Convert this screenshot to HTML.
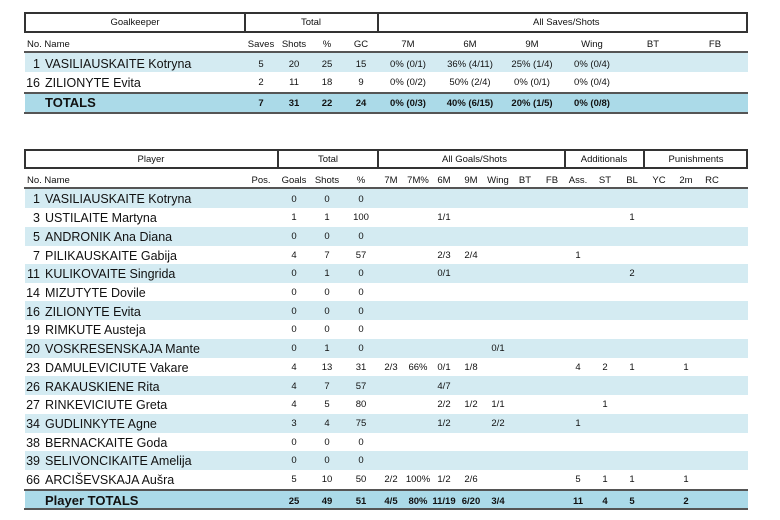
<!DOCTYPE html>
<html><head><meta charset="utf-8"><style>
*{margin:0;padding:0;box-sizing:border-box}
body{width:780px;height:520px;background:#fff;position:relative;font-family:"Liberation Sans",sans-serif;color:#111;overflow:hidden}
.box{position:absolute;border:2px solid #333;border-right-width:2px}
.vl{position:absolute;width:2px;background:#333}
.hl{position:absolute;height:2px;background:#555;left:24px;width:724px}
.bg{position:absolute;left:25px;width:723px}
.b1{background:#d4ebf2}.bt{background:#abdae8}
.t{position:absolute;font-size:9.5px;line-height:12px;white-space:nowrap;text-align:center;width:60px;margin-left:-30px}
.n{position:absolute;font-size:12.5px;line-height:14px;white-space:nowrap}
.no{position:absolute;font-size:12.5px;line-height:14px;width:20px;left:20px;text-align:right}
.b{font-weight:bold}
.n.b{font-size:13px}
</style></head><body>

<!-- TOP TABLE -->
<div class="box" style="left:24px;top:12px;width:724px;height:21px"></div>
<div class="vl" style="left:244px;top:12px;height:21px"></div>
<div class="vl" style="left:377px;top:12px;height:21px"></div>
<div class="t" style="left:135px;top:17px">Goalkeeper</div>
<div class="t" style="left:311px;top:17px">Total</div>
<div class="t" style="left:563px;top:17px">All Saves/Shots</div>

<div class="t" style="left:27px;top:39px;margin-left:0;text-align:left">No. Name</div>
<div class="t" style="left:261px;top:39px">Saves</div>
<div class="t" style="left:294px;top:39px">Shots</div>
<div class="t" style="left:327px;top:39px">%</div>
<div class="t" style="left:361px;top:39px">GC</div>
<div class="t" style="left:408px;top:39px">7M</div>
<div class="t" style="left:470px;top:39px">6M</div>
<div class="t" style="left:532px;top:39px">9M</div>
<div class="t" style="left:592px;top:39px">Wing</div>
<div class="t" style="left:653px;top:39px">BT</div>
<div class="t" style="left:715px;top:39px">FB</div>
<div class="hl" style="top:51px"></div>

<div class="bg b1" style="top:53px;height:19px"></div>
<div class="no" style="top:57px">1</div><div class="n" style="left:45px;top:57px">VASILIAUSKAITE Kotryna</div>
<div class="t" style="left:261px;top:59px">5</div><div class="t" style="left:294px;top:59px">20</div><div class="t" style="left:327px;top:59px">25</div><div class="t" style="left:361px;top:59px">15</div>
<div class="t" style="left:408px;top:59px">0% (0/1)</div><div class="t" style="left:470px;top:59px">36% (4/11)</div><div class="t" style="left:532px;top:59px">25% (1/4)</div><div class="t" style="left:592px;top:59px">0% (0/4)</div>

<div class="no" style="top:76px">16</div><div class="n" style="left:45px;top:76px">ZILIONYTE Evita</div>
<div class="t" style="left:261px;top:77px">2</div><div class="t" style="left:294px;top:77px">11</div><div class="t" style="left:327px;top:77px">18</div><div class="t" style="left:361px;top:77px">9</div>
<div class="t" style="left:408px;top:77px">0% (0/2)</div><div class="t" style="left:470px;top:77px">50% (2/4)</div><div class="t" style="left:532px;top:77px">0% (0/1)</div><div class="t" style="left:592px;top:77px">0% (0/4)</div>

<div class="hl" style="top:92px"></div>
<div class="bg bt" style="top:94px;height:19px"></div>
<div class="n b" style="left:45px;top:96px">TOTALS</div>
<div class="t b" style="left:261px;top:98px">7</div><div class="t b" style="left:294px;top:98px">31</div><div class="t b" style="left:327px;top:98px">22</div><div class="t b" style="left:361px;top:98px">24</div>
<div class="t b" style="left:408px;top:98px">0% (0/3)</div><div class="t b" style="left:470px;top:98px">40% (6/15)</div><div class="t b" style="left:532px;top:98px">20% (1/5)</div><div class="t b" style="left:592px;top:98px">0% (0/8)</div>
<div class="hl" style="top:112px"></div>

<!-- BOTTOM TABLE -->
<div class="box" style="left:24px;top:149px;width:724px;height:20px"></div>
<div class="vl" style="left:277px;top:149px;height:20px"></div>
<div class="vl" style="left:377px;top:149px;height:20px"></div>
<div class="vl" style="left:564px;top:149px;height:20px"></div>
<div class="vl" style="left:643px;top:149px;height:20px"></div>
<div class="t" style="left:151px;top:154px">Player</div>
<div class="t" style="left:328px;top:154px">Total</div>
<div class="t" style="left:472px;top:154px">All Goals/Shots</div>
<div class="t" style="left:604px;top:154px">Additionals</div>
<div class="t" style="left:696px;top:154px">Punishments</div>

<div class="t" style="left:27px;top:175px;margin-left:0;text-align:left">No. Name</div>
<div class="t" style="left:261px;top:175px">Pos.</div>
<div class="t" style="left:294px;top:175px">Goals</div>
<div class="t" style="left:327px;top:175px">Shots</div>
<div class="t" style="left:361px;top:175px">%</div>
<div class="t" style="left:391px;top:175px">7M</div>
<div class="t" style="left:418px;top:175px">7M%</div>
<div class="t" style="left:444px;top:175px">6M</div>
<div class="t" style="left:471px;top:175px">9M</div>
<div class="t" style="left:498px;top:175px">Wing</div>
<div class="t" style="left:525px;top:175px">BT</div>
<div class="t" style="left:552px;top:175px">FB</div>
<div class="t" style="left:578px;top:175px">Ass.</div>
<div class="t" style="left:605px;top:175px">ST</div>
<div class="t" style="left:632px;top:175px">BL</div>
<div class="t" style="left:659px;top:175px">YC</div>
<div class="t" style="left:686px;top:175px">2m</div>
<div class="t" style="left:712px;top:175px">RC</div>
<div class="hl" style="top:187px"></div>

<div class="bg b1" style="top:189px;height:19px"></div>
<div class="bg b1" style="top:227px;height:19px"></div>
<div class="bg b1" style="top:264px;height:19px"></div>
<div class="bg b1" style="top:301px;height:19px"></div>
<div class="bg b1" style="top:339px;height:19px"></div>
<div class="bg b1" style="top:376px;height:19px"></div>
<div class="bg b1" style="top:414px;height:19px"></div>
<div class="bg b1" style="top:451px;height:19px"></div>

<div class="no" style="top:192px">1</div><div class="n" style="left:45px;top:192px">VASILIAUSKAITE Kotryna</div>
<div class="t" style="left:294px;top:194px">0</div><div class="t" style="left:327px;top:194px">0</div><div class="t" style="left:361px;top:194px">0</div>

<div class="no" style="top:211px">3</div><div class="n" style="left:45px;top:211px">USTILAITE Martyna</div>
<div class="t" style="left:294px;top:212px">1</div><div class="t" style="left:327px;top:212px">1</div><div class="t" style="left:361px;top:212px">100</div><div class="t" style="left:444px;top:212px">1/1</div><div class="t" style="left:632px;top:212px">1</div>

<div class="no" style="top:230px">5</div><div class="n" style="left:45px;top:230px">ANDRONIK Ana Diana</div>
<div class="t" style="left:294px;top:231px">0</div><div class="t" style="left:327px;top:231px">0</div><div class="t" style="left:361px;top:231px">0</div>

<div class="no" style="top:249px">7</div><div class="n" style="left:45px;top:249px">PILIKAUSKAITE Gabija</div>
<div class="t" style="left:294px;top:250px">4</div><div class="t" style="left:327px;top:250px">7</div><div class="t" style="left:361px;top:250px">57</div><div class="t" style="left:444px;top:250px">2/3</div><div class="t" style="left:471px;top:250px">2/4</div><div class="t" style="left:578px;top:250px">1</div>

<div class="no" style="top:267px">11</div><div class="n" style="left:45px;top:267px">KULIKOVAITE Singrida</div>
<div class="t" style="left:294px;top:268px">0</div><div class="t" style="left:327px;top:268px">1</div><div class="t" style="left:361px;top:268px">0</div><div class="t" style="left:444px;top:268px">0/1</div><div class="t" style="left:632px;top:268px">2</div>

<div class="no" style="top:286px">14</div><div class="n" style="left:45px;top:286px">MIZUTYTE Dovile</div>
<div class="t" style="left:294px;top:287px">0</div><div class="t" style="left:327px;top:287px">0</div><div class="t" style="left:361px;top:287px">0</div>

<div class="no" style="top:305px">16</div><div class="n" style="left:45px;top:305px">ZILIONYTE Evita</div>
<div class="t" style="left:294px;top:306px">0</div><div class="t" style="left:327px;top:306px">0</div><div class="t" style="left:361px;top:306px">0</div>

<div class="no" style="top:323px">19</div><div class="n" style="left:45px;top:323px">RIMKUTE Austeja</div>
<div class="t" style="left:294px;top:324px">0</div><div class="t" style="left:327px;top:324px">0</div><div class="t" style="left:361px;top:324px">0</div>

<div class="no" style="top:342px">20</div><div class="n" style="left:45px;top:342px">VOSKRESENSKAJA Mante</div>
<div class="t" style="left:294px;top:343px">0</div><div class="t" style="left:327px;top:343px">1</div><div class="t" style="left:361px;top:343px">0</div><div class="t" style="left:498px;top:343px">0/1</div>

<div class="no" style="top:361px">23</div><div class="n" style="left:45px;top:361px">DAMULEVICIUTE Vakare</div>
<div class="t" style="left:294px;top:362px">4</div><div class="t" style="left:327px;top:362px">13</div><div class="t" style="left:361px;top:362px">31</div><div class="t" style="left:391px;top:362px">2/3</div><div class="t" style="left:418px;top:362px">66%</div><div class="t" style="left:444px;top:362px">0/1</div><div class="t" style="left:471px;top:362px">1/8</div><div class="t" style="left:578px;top:362px">4</div><div class="t" style="left:605px;top:362px">2</div><div class="t" style="left:632px;top:362px">1</div><div class="t" style="left:686px;top:362px">1</div>

<div class="no" style="top:380px">26</div><div class="n" style="left:45px;top:380px">RAKAUSKIENE Rita</div>
<div class="t" style="left:294px;top:381px">4</div><div class="t" style="left:327px;top:381px">7</div><div class="t" style="left:361px;top:381px">57</div><div class="t" style="left:444px;top:381px">4/7</div>

<div class="no" style="top:398px">27</div><div class="n" style="left:45px;top:398px">RINKEVICIUTE Greta</div>
<div class="t" style="left:294px;top:399px">4</div><div class="t" style="left:327px;top:399px">5</div><div class="t" style="left:361px;top:399px">80</div><div class="t" style="left:444px;top:399px">2/2</div><div class="t" style="left:471px;top:399px">1/2</div><div class="t" style="left:498px;top:399px">1/1</div><div class="t" style="left:605px;top:399px">1</div>

<div class="no" style="top:417px">34</div><div class="n" style="left:45px;top:417px">GUDLINKYTE Agne</div>
<div class="t" style="left:294px;top:418px">3</div><div class="t" style="left:327px;top:418px">4</div><div class="t" style="left:361px;top:418px">75</div><div class="t" style="left:444px;top:418px">1/2</div><div class="t" style="left:498px;top:418px">2/2</div><div class="t" style="left:578px;top:418px">1</div>

<div class="no" style="top:436px">38</div><div class="n" style="left:45px;top:436px">BERNACKAITE Goda</div>
<div class="t" style="left:294px;top:437px">0</div><div class="t" style="left:327px;top:437px">0</div><div class="t" style="left:361px;top:437px">0</div>

<div class="no" style="top:454px">39</div><div class="n" style="left:45px;top:454px">SELIVONCIKAITE Amelija</div>
<div class="t" style="left:294px;top:455px">0</div><div class="t" style="left:327px;top:455px">0</div><div class="t" style="left:361px;top:455px">0</div>

<div class="no" style="top:473px">66</div><div class="n" style="left:45px;top:473px">ARCIŠEVSKAJA Aušra</div>
<div class="t" style="left:294px;top:474px">5</div><div class="t" style="left:327px;top:474px">10</div><div class="t" style="left:361px;top:474px">50</div><div class="t" style="left:391px;top:474px">2/2</div><div class="t" style="left:418px;top:474px">100%</div><div class="t" style="left:444px;top:474px">1/2</div><div class="t" style="left:471px;top:474px">2/6</div><div class="t" style="left:578px;top:474px">5</div><div class="t" style="left:605px;top:474px">1</div><div class="t" style="left:632px;top:474px">1</div><div class="t" style="left:686px;top:474px">1</div>

<div class="hl" style="top:489px"></div>
<div class="bg bt" style="top:491px;height:18px"></div>
<div class="n b" style="left:45px;top:494px">Player TOTALS</div>
<div class="t b" style="left:294px;top:496px">25</div><div class="t b" style="left:327px;top:496px">49</div><div class="t b" style="left:361px;top:496px">51</div><div class="t b" style="left:391px;top:496px">4/5</div><div class="t b" style="left:418px;top:496px">80%</div><div class="t b" style="left:444px;top:496px">11/19</div><div class="t b" style="left:471px;top:496px">6/20</div><div class="t b" style="left:498px;top:496px">3/4</div><div class="t b" style="left:578px;top:496px">11</div><div class="t b" style="left:605px;top:496px">4</div><div class="t b" style="left:632px;top:496px">5</div><div class="t b" style="left:686px;top:496px">2</div>
<div class="hl" style="top:508px"></div>

</body></html>
